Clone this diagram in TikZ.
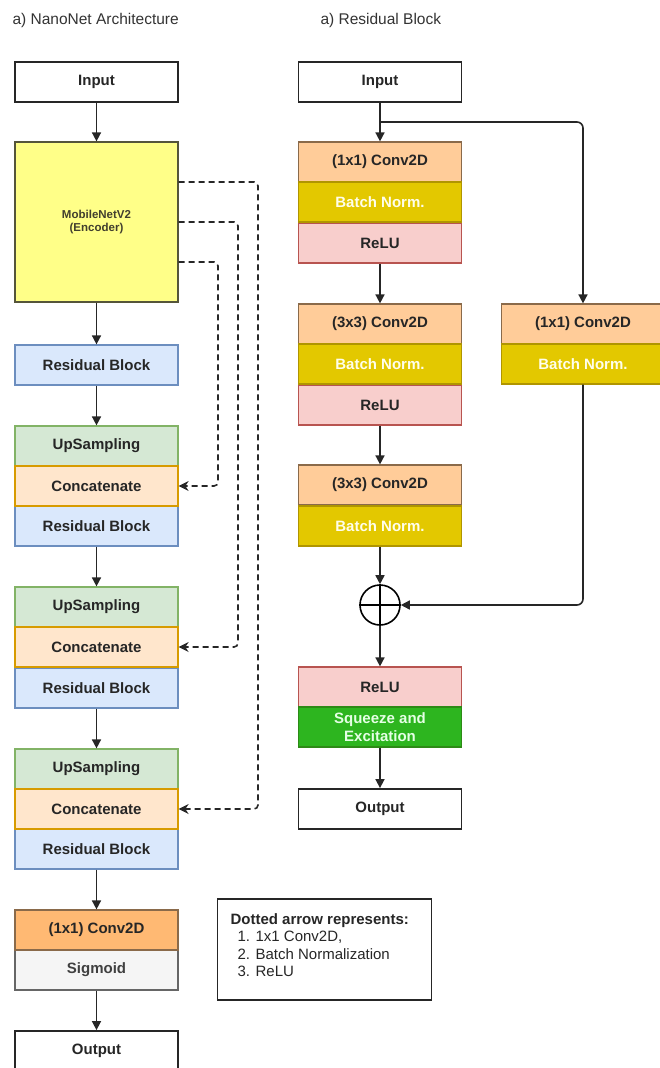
\documentclass[tikz,border=0pt]{standalone}
\usepackage{fontspec}
\setmainfont{Liberation Sans}
\usetikzlibrary{arrows.meta}
\definecolor{upfill}{HTML}{D5E8D4}\definecolor{updraw}{HTML}{82B366}
\definecolor{catfill}{HTML}{FFE6CC}\definecolor{catdraw}{HTML}{D79B00}
\definecolor{resfill}{HTML}{DAE8FC}\definecolor{resdraw}{HTML}{6C8EBF}
\definecolor{convfill}{HTML}{FFCC99}\definecolor{convdraw}{HTML}{8A6A4A}
\definecolor{bnfill}{HTML}{E3C800}\definecolor{bndraw}{HTML}{B09500}
\definecolor{relufill}{HTML}{F8CECC}\definecolor{reludraw}{HTML}{B85450}
\definecolor{sefill}{HTML}{2DB51F}\definecolor{sedraw}{HTML}{2D8A16}
\definecolor{sigfill}{HTML}{F5F5F5}\definecolor{sigdraw}{HTML}{666666}
\definecolor{encfill}{HTML}{FFFF88}\definecolor{encdraw}{HTML}{55553A}
\definecolor{titlegray}{HTML}{333333}
\begin{document}
\begin{tikzpicture}[x=1pt,y=-1pt,
  blk/.style={draw, line width=1.2pt, minimum width=163pt, minimum height=40pt, inner sep=0pt,
    font=\fontsize{15}{17}\selectfont\bfseries, text=black!85},
  plain/.style={blk, line width=1.8pt, draw=black!85, fill=white},
  up/.style={blk, fill=upfill, draw=updraw},
  cat/.style={blk, fill=catfill, draw=catdraw},
  res/.style={blk, fill=resfill, draw=resdraw},
  conv/.style={blk, fill=convfill, draw=convdraw},
  bn/.style={blk, fill=bnfill, draw=bndraw, text=white!92!yellow},
  relu/.style={blk, fill=relufill, draw=reludraw},
  sig/.style={blk, fill=sigfill, draw=sigdraw, text=black!75},
  arr/.style={-{Triangle[length=9pt,width=9pt]}, line width=1.6pt, black!85},
  skip/.style={-{Stealth[length=10pt,width=10pt]}, line width=1.6pt, black!85,
    dash pattern=on 6pt off 4pt, rounded corners=4pt}]
\useasboundingbox (0,0) rectangle (659,1068);
% titles
\node [anchor=west, text=titlegray, font=\fontsize{15.5}{18}\selectfont] (t1) at (9,20) {a) NanoNet Architecture};
\node [anchor=west, text=titlegray, font=\fontsize{15.5}{18}\selectfont] (t2) at (317,20) {a) Residual Block};

% NanoNet column
\node [plain] (in) at (96.5,82) {Input};
\node [blk, fill=encfill, draw=encdraw, minimum height=160pt, align=center,
  font=\fontsize{11.5}{13.5}\selectfont\bfseries, text=black!70!olive] (enc) at (96.5,222) {MobileNetV2\\(Encoder)};
\node [res] (r0) at (96.5,365) {Residual Block};
\node [up] (u1) at (96.5,446) {UpSampling};
\node [res] (r1) at (96.5,526) {Residual Block};
\node [cat] (c1) at (96.5,486) {Concatenate};
\node [up] (u2) at (96.5,607) {UpSampling};
\node [res] (r2) at (96.5,688) {Residual Block};
\node [cat] (c2) at (96.5,647) {Concatenate};
\node [up] (u3) at (96.5,769) {UpSampling};
\node [res] (r3) at (96.5,849) {Residual Block};
\node [cat] (c3) at (96.5,809) {Concatenate};
\node [sig] (sg) at (96.5,970) {Sigmoid};
\node [conv, fill=convfill!75!orange] (cv) at (96.5,930) {(1x1) Conv2D};
\node [plain] (out) at (96.5,1051) {Output};

\draw [arr] (in) -- (enc);
\draw [arr] (enc) -- (r0);
\draw [arr] (r0) -- (u1);
\draw [arr] (r1) -- (u2);
\draw [arr] (r2) -- (u3);
\draw [arr] (r3) -- (cv);
\draw [arr] (sg) -- (out);

% skip connections
\draw [skip] (enc.east |- 0,182) -- (258,182) -- (258,809) -- (c3.east);
\draw [skip] (enc.east |- 0,222) -- (238,222) -- (238,647) -- (c2.east);
\draw [skip] (enc.east |- 0,262) -- (218,262) -- (218,486) -- (c1.east);

% Residual block column
\node [plain] (rin) at (380,82) {Input};
\node [conv] (k1) at (380,162) {(1x1) Conv2D};
\node [relu] (a1) at (380,243) {ReLU};
\node [bn] (b1) at (380,202) {Batch Norm.};
\node [conv] (k2) at (380,324) {(3x3) Conv2D};
\node [relu] (a2) at (380,405) {ReLU};
\node [bn] (b2) at (380,364) {Batch Norm.};
\node [conv] (k3) at (380,485) {(3x3) Conv2D};
\node [bn] (b3) at (380,526) {Batch Norm.};
\node [draw, circle, line width=1.6pt, minimum size=40pt, inner sep=0pt] (add) at (380,605) {};
\draw [line width=1.6pt] (add.north) -- (add.south) (add.west) -- (add.east);
\node [relu] (a4) at (380,687) {ReLU};
\node [blk, fill=sefill, draw=sedraw, text=white!90!green, align=center,
  font=\fontsize{15}{18}\selectfont\bfseries] (se) at (380,727) {Squeeze and\\Excitation};
\node [plain] (rout) at (380,809) {Output};
\node [conv] (sk) at (583,324) {(1x1) Conv2D};
\node [bn] (sb) at (583,364) {Batch Norm.};

\coordinate (split) at (380,122);
\draw [arr] (rin) -- (k1);
\draw [arr, rounded corners=6pt] (split) -| (sk);
\draw [arr] (a1) -- (k2);
\draw [arr] (a2) -- (k3);
\draw [arr] (b3) -- (add);
\draw [arr, rounded corners=6pt] (sb) |- (add);
\draw [arr] (add) -- (a4);
\draw [arr] (se) -- (rout);

% legend
\node [draw, line width=1.6pt, black!85, minimum width=214pt, minimum height=101pt] (leg) at (324.5,949.5) {};
\node [anchor=north west, align=left, text=black!85, font=\fontsize{15}{17.5}\selectfont] (legtxt) at (227,910)
  {\textbf{Dotted arrow represents:}\\ \hspace{7pt}1. 1x1 Conv2D,\\ \hspace{7pt}2. Batch Normalization\\ \hspace{7pt}3. ReLU};
\end{tikzpicture}
\end{document}
